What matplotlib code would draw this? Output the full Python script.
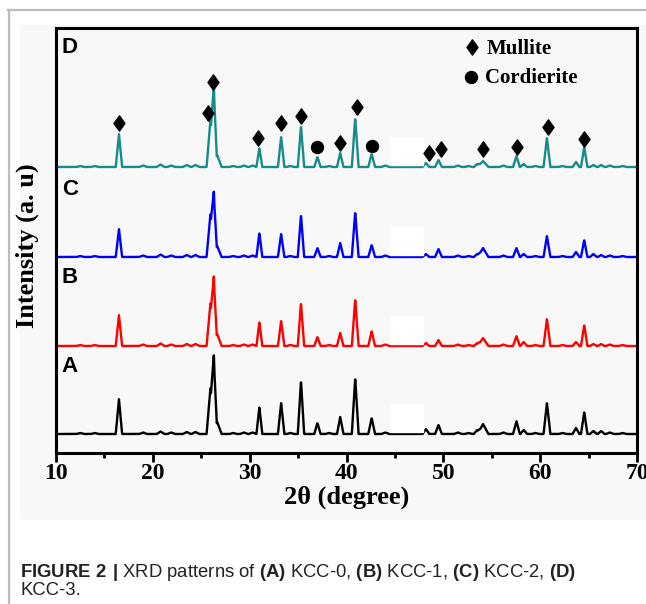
import numpy as np
import matplotlib.pyplot as plt
from matplotlib.path import Path
from matplotlib.patches import Rectangle
from matplotlib.lines import Line2D

plt.rcParams['mathtext.fontset'] = 'custom'
plt.rcParams['mathtext.rm'] = 'Liberation Sans'
plt.rcParams['mathtext.bf'] = 'Liberation Sans:bold'

# peak positions (2theta) and half-base widths
peak_pos = [16.5, 25.95, 26.3, 26.65, 31.0, 33.25, 35.3, 37.0, 39.35, 40.9, 42.6,
            48.2, 49.5, 53.5, 54.1, 57.55, 58.3, 60.7, 63.7, 64.55, 65.5, 66.3]
peak_w = [0.33, 0.4, 0.3, 0.45, 0.3, 0.33, 0.33, 0.33, 0.33, 0.35, 0.35,
          0.35, 0.35, 0.35, 0.55, 0.35, 0.35, 0.35, 0.35, 0.33, 0.35, 0.35]

# peak heights per sample (a.u.)
h_A = [35, 46, 72, 12, 27, 31, 53, 11, 17, 56, 16, 5, 9, 4, 10, 13, 4, 31, 6, 22, 3, 3]
h_B = [31, 43, 63, 12, 24, 25, 43, 9, 13, 47, 15, 3, 6, 3, 8, 10, 4, 27, 4, 21, 2, 2]
h_C = [28, 43, 59, 11, 24, 23, 42, 9, 14, 45, 12, 3, 8, 3, 9, 9, 3, 21, 5, 17, 3, 2]
h_D = [33, 47, 74, 12, 19, 30, 41, 10, 14, 49, 13, 4, 7, 3, 6, 11, 3, 29, 5, 20, 2, 2]

# small background bumps
bump_pos = [12.5, 14.0, 19.0, 20.8, 21.9, 23.5, 24.4, 28.3, 29.4, 30.3, 34.2, 38.2,
            44.0, 51.5, 52.6, 56.2, 59.5, 62.3, 67.2, 68.5]
bump_h = [1.0, 1.0, 1.5, 2.5, 1.5, 2.0, 2.0, 1.0, 1.5, 1.5, 1.0, 1.0,
          1.5, 1.5, 1.0, 1.5, 1.0, 1.0, 1.5, 1.0]

offsets = [19, 107, 196, 286]
colors = ['black', '#ff0000', '#0000ff', '#178a8a']
labels = ['A', 'B', 'C', 'D']
label_y = [81, 170, 258, 400]

mullite_x = [16.5, 25.65, 26.25, 30.85, 33.25, 35.3, 39.3, 41.05, 48.5, 49.8, 54.05, 57.6, 60.8, 64.5]
mullite_y = [330, 340, 371, 315, 330, 337, 310, 346, 300, 304, 304, 306, 326, 314]
cord_x = [37.0, 42.6]
cord_y = [306, 307]

diamond = Path([(0, 1), (0.72, 0), (0, -1), (-0.72, 0), (0, 1)],
               [Path.MOVETO, Path.LINETO, Path.LINETO, Path.LINETO, Path.CLOSEPOLY])

def pattern(x, heights):
    y = np.zeros_like(x)
    for p, w, h in zip(peak_pos + bump_pos, peak_w + [0.4] * len(bump_pos), heights + bump_h):
        y += h * np.clip(1 - np.abs(x - p) / w, 0, None)
    return y

fig = plt.figure(figsize=(6.46, 6.04), dpi=100)
fig.patches.append(Rectangle((20 / 646, 1 - 519 / 604), 1, 494 / 604,
                             transform=fig.transFigure, color='#f8f8f8', zorder=-5))
fig.lines.append(Line2D([8 / 646, 1], [1 - 10 / 604] * 2, transform=fig.transFigure,
                        color='#bbbbbb', lw=1.6, zorder=-4))
fig.lines.append(Line2D([8.5 / 646] * 2, [0, 1 - 10 / 604], transform=fig.transFigure,
                        color='#bbbbbb', lw=1.6, zorder=-4))

ax = fig.add_axes([56 / 646, 1 - 453 / 604, 581 / 646, 425 / 604])
ax.set_facecolor('#f8f8f8')

x = np.linspace(10, 70, 3000)
for heights, off, c, lab, ly in zip([h_A, h_B, h_C, h_D], offsets, colors, labels, label_y):
    ax.plot(x, pattern(x, heights) + off, color=c, lw=1.7, zorder=2)
    ax.add_patch(Rectangle((44.5, off + 2.5), 3.35, 27.5, color='white', zorder=3))
    ax.text(10.6, ly, lab, fontsize=16, fontweight='bold', family='Liberation Sans')

ax.plot(mullite_x, mullite_y, ls='none', marker=diamond, ms=11, color='black', zorder=4)
ax.plot(cord_x, cord_y, ls='none', marker='o', ms=8.6, color='black', zorder=4)

# legend
ax.plot([53.0], [406], marker=diamond, ms=11, color='black')
ax.plot([52.85], [376], marker='o', ms=8.6, color='black')
ax.text(54.45, 399, 'Mullite', fontsize=15, fontweight='bold', family='Liberation Serif')
ax.text(54.3, 370, 'Cordierite', fontsize=15, fontweight='bold', family='Liberation Serif')

ax.set_xlim(10, 70)
ax.set_ylim(0, 425)
ax.set_xticks(range(10, 71, 10))
ax.set_xticks(range(15, 70, 10), minor=True)
ax.set_yticks([])
ax.tick_params(axis='x', which='major', direction='out', length=6.5, width=2, pad=1)
ax.tick_params(axis='x', which='minor', direction='out', length=3.6, width=2)
for lbl in ax.get_xticklabels():
    lbl.set_fontsize(17)
    lbl.set_fontweight('bold')
    lbl.set_family('Liberation Serif')
for s in ax.spines.values():
    s.set_linewidth(2.2)

fig.text((56 + 637) / 2 / 646, 1 - 497 / 604, '2\u03b8 (degree)', ha='center', va='center',
         fontsize=19, fontweight='bold', family='Liberation Serif')
fig.text(27 / 646, 1 - 246 / 604, 'Intensity (a. u)', ha='center', va='center', rotation=90,
         fontsize=19, fontweight='bold', family='Liberation Serif')

fig.text(20 / 646, 1 - 577 / 604,
         r'$\mathbf{FIGURE\ 2\ |}$ XRD patterns of $\mathbf{(A)}$ KCC-0, $\mathbf{(B)}$ KCC-1, '
         r'$\mathbf{(C)}$ KCC-2, $\mathbf{(D)}$',
         fontsize=13.3, family='Liberation Sans', color='#222222', va='baseline')
fig.text(20 / 646, 1 - 595 / 604, 'KCC-3.', fontsize=13.3, family='Liberation Sans',
         color='#222222', va='baseline')

fig.savefig('out.png', dpi=100)
